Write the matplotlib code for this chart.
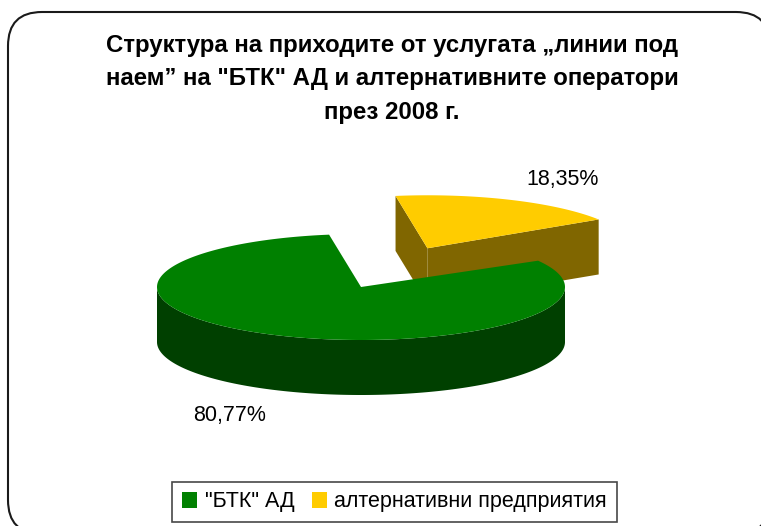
import numpy as np
import matplotlib
matplotlib.use('Agg')
import matplotlib.pyplot as plt
from matplotlib.patches import Polygon, FancyBboxPatch, Patch

plt.rcParams['font.family'] = ['Liberation Sans', 'DejaVu Sans']

title = 'Структура на приходите от услугата „линии под\nнаем” на "БТК" АД и алтернативните оператори\nпрез 2008 г.'
labels = ['"БТК" АД', 'алтернативни предприятия']
values = [80.77, 18.35]
top_colors = ['#008000', '#FFCC00']
side_colors = ['#004000', '#806600']
explode = [0.0, 0.8]

# pie geometry in pixels
cx, cy = 361, 287
ra, rb = 204, 53
depth = 55
start = 99.0

def rim(ox, oy, th, dy=0):
    t = np.radians(th)
    return np.column_stack([ox + ra * np.cos(t), oy - rb * np.sin(t) + dy])

fig = plt.figure(figsize=(7.61, 5.26), dpi=100)
ax = fig.add_axes([0, 0, 1, 1])
ax.set_xlim(0, 761)
ax.set_ylim(526, 0)
ax.axis('off')

border = FancyBboxPatch((8, 12), 762, 522, boxstyle='round,pad=0,rounding_size=34',
                        fc='white', ec='#1a1a1a', lw=1.5, zorder=0)
ax.add_patch(border)

# shares are percent of 100 (the rest is not shown)
fracs = np.array(values) / 100 * 360
slices = [(start, start + fracs[0]), (start - fracs[1], start)]

# draw back-most (yellow) first, then green
for i in [1, 0]:
    t1, t2 = slices[i]
    mid = np.radians((t1 + t2) / 2)
    ox = cx + explode[i] * ra * np.cos(mid)
    oy = cy - explode[i] * rb * np.sin(mid)
    z = 2 + (0 if i == 1 else 5)
    # cut faces
    for edge, sign in [(t1, -1), (t2, 1)]:
        normal = np.radians(edge + sign * 90)
        if np.sin(normal) < 0:
            p = rim(ox, oy, [edge])[0]
            face = [(ox, oy), tuple(p), (p[0], p[1] + depth), (ox, oy + depth)]
            ax.add_patch(Polygon(face, closed=True, fc=side_colors[i], ec='none', zorder=z))
    # outer wall, front part only
    lo, hi = max(t1, 180), min(t2, 360)
    if hi > lo:
        th = np.linspace(lo, hi, 200)
        wall = np.vstack([rim(ox, oy, th), rim(ox, oy, th[::-1], depth)])
        ax.add_patch(Polygon(wall, closed=True, fc=side_colors[i], ec='none', zorder=z + 1))
    th = np.linspace(t1, t2, 300)
    top = np.vstack([[ox, oy], rim(ox, oy, th)])
    ax.add_patch(Polygon(top, closed=True, fc=top_colors[i], ec='none', zorder=z + 2))

def pct(v):
    return f'{v:.2f}'.replace('.', ',') + '%'

ax.text(563, 180, pct(values[1]), ha='center', va='center', fontsize=15.5, zorder=20)
ax.text(230, 415, pct(values[0]), ha='center', va='center', fontsize=15.5, zorder=20)

ax.text(392, 79, title, ha='center', va='center', fontsize=17.3, fontweight='bold',
        linespacing=1.58, zorder=20)

handles = [Patch(fc=c, ec='none') for c in top_colors]
leg = ax.legend(handles, labels, loc='center', bbox_to_anchor=(394.5 / 761, 1 - 502 / 526),
                ncol=2, fontsize=15.5, frameon=True, fancybox=False, edgecolor='#1a1a1a',
                handlelength=0.7, handleheight=0.7, handletextpad=0.35, columnspacing=0.8,
                borderpad=0.45, borderaxespad=0)
leg.get_frame().set_linewidth(1.2)

fig.savefig('out.png', dpi=100)
